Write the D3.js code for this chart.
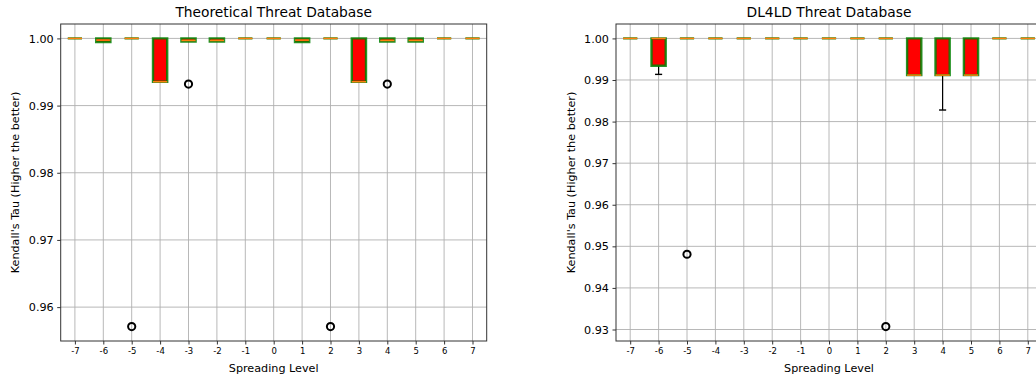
<!DOCTYPE html>
<html>
<head>
<meta charset="utf-8">
<script src="https://cdn.jsdelivr.net/npm/d3@7"></script>
<style>
  body { margin: 0; background: white; }
  svg { display: block; overflow: hidden; }
  text { font-family: "DejaVu Sans", sans-serif; fill: #000; }
</style>
</head>
<body>
<svg id="chart" width="1036" height="378"></svg>
<script>
// spreading levels on the x axis
var levels = [-7, -6, -5, -4, -3, -2, -1, 0, 1, 2, 3, 4, 5, 6, 7];

// Theoretical Threat Database
var theoQ1  = [1, 0.99945, 1, 0.99355, 0.99955, 0.99955, 1, 1, 0.99945, 1, 0.99355, 0.99955, 0.99955, 1, 1];
var theoMed = [1, 0.99975, 1, 0.99355, 0.99970, 0.99970, 1, 1, 0.99975, 1, 0.99355, 0.99970, 0.99970, 1, 1];
var theoQ3  = [1, 1, 1, 1, 1, 1, 1, 1, 1, 1, 1, 1, 1, 1, 1];
var theoLo  = [1, 0.99945, 1, 0.99355, 0.99955, 0.99955, 1, 1, 0.99945, 1, 0.99355, 0.99955, 0.99955, 1, 1];
var theoHi  = [1, 1, 1, 1, 1, 1, 1, 1, 1, 1, 1, 1, 1, 1, 1];
var theoOutLevel = [-5, -3, 2, 4];
var theoOutValue = [0.9571, 0.9932, 0.9571, 0.9932];
var theoTicks = [0.96, 0.97, 0.98, 0.99, 1.00];

// DL4LD Threat Database
var dlQ1  = [1, 0.99342, 1, 1, 1, 1, 1, 1, 1, 1, 0.99118, 0.99118, 0.99118, 1, 1];
var dlMed = [1, 1, 1, 1, 1, 1, 1, 1, 1, 1, 0.99118, 0.99118, 0.99118, 1, 1];
var dlQ3  = [1, 1, 1, 1, 1, 1, 1, 1, 1, 1, 1, 1, 1, 1, 1];
var dlLo  = [1, 0.99135, 1, 1, 1, 1, 1, 1, 1, 1, 0.99118, 0.98278, 0.99118, 1, 1];
var dlHi  = [1, 1, 1, 1, 1, 1, 1, 1, 1, 1, 1, 1, 1, 1, 1];
var dlOutLevel = [-5, 2];
var dlOutValue = [0.9481, 0.9307];
var dlTicks = [0.93, 0.94, 0.95, 0.96, 0.97, 0.98, 0.99, 1.00];

var svg = d3.select("#chart");
var pw = 426, ph = 317;

function drawPanel(left, title, q1, med, q3, lo, hi, outLevel, outValue, yTicks) {
	var g = svg.append("g").attr("transform", "translate(" + left + "," + 24 + ")");

	var x = d3.scaleLinear().domain([-7.5, 7.5]).range([0, pw]);
	var vmin = d3.min(lo.concat(outValue)), vmax = d3.max(hi);
	var pad = (vmax - vmin) * 0.05;
	var y = d3.scaleLinear().domain([vmin - pad, vmax + pad]).range([ph, 0]);

	// grid
	g.append("g").selectAll("line").data(levels).enter().append("line")
		.attr("x1", function(d) { return x(d); }).attr("x2", function(d) { return x(d); })
		.attr("y1", 0).attr("y2", ph)
		.attr("stroke", "#b0b0b0").attr("stroke-width", 0.9);
	g.append("g").selectAll("line").data(yTicks).enter().append("line")
		.attr("x1", 0).attr("x2", pw)
		.attr("y1", function(d) { return y(d); }).attr("y2", function(d) { return y(d); })
		.attr("stroke", "#b0b0b0").attr("stroke-width", 0.9);

	var bw = 0.5;
	var boxes = g.append("g").selectAll("g").data(levels).enter().append("g");

	// whiskers + caps
	boxes.filter(function(d, i) { return lo[i] < q1[i]; }).each(function(d) {
		var k = levels.indexOf(d);
		var s = d3.select(this);
		s.append("line")
			.attr("x1", x(d)).attr("x2", x(d))
			.attr("y1", y(q1[k])).attr("y2", y(lo[k]))
			.attr("stroke", "black").attr("stroke-width", 1.2);
		s.append("line")
			.attr("x1", x(d - bw / 4)).attr("x2", x(d + bw / 4))
			.attr("y1", y(lo[k])).attr("y2", y(lo[k]))
			.attr("stroke", "black").attr("stroke-width", 1.4);
	});

	// box as a closed path so zero-height boxes still show their edge
	boxes.append("path")
		.attr("d", function(d, i) {
			var x0 = x(d - bw / 2), x1 = x(d + bw / 2), y0 = y(q3[i]), y1 = y(q1[i]);
			return "M" + x0 + "," + y0 + "H" + x1 + "V" + y1 + "H" + x0 + "Z";
		})
		.attr("fill", "red")
		.attr("stroke", "green")
		.attr("stroke-opacity", 0.85)
		.attr("stroke-width", 2.4);

	boxes.append("line")
		.attr("x1", function(d) { return x(d - bw / 2); })
		.attr("x2", function(d) { return x(d + bw / 2); })
		.attr("y1", function(d, i) { return y(med[i]); })
		.attr("y2", function(d, i) { return y(med[i]); })
		.attr("stroke", "#ff7f0e")
		.attr("stroke-width", 1.5);

	// fliers
	g.append("g").selectAll("circle").data(outLevel).enter().append("circle")
		.attr("cx", function(d) { return x(d); })
		.attr("cy", function(d, i) { return y(outValue[i]); })
		.attr("r", 3.6)
		.attr("fill", "none")
		.attr("stroke", "black")
		.attr("stroke-width", 2);

	// frame
	g.append("rect").attr("width", pw).attr("height", ph)
		.attr("fill", "none").attr("stroke", "#333").attr("stroke-width", 1);

	var xAxis = g.append("g").attr("transform", "translate(0," + ph + ")")
		.call(d3.axisBottom(x).tickValues(levels).tickFormat(function(d) { return String(d); }).tickSize(3.5).tickPadding(3));
	xAxis.select(".domain").remove();
	xAxis.selectAll("text").style("font-size", "8.5px").style("font-family", "DejaVu Sans");
	xAxis.selectAll("line").attr("stroke", "#333");

	var yAxis = g.append("g")
		.call(d3.axisLeft(y).tickValues(yTicks).tickFormat(d3.format(".2f")).tickSize(3.5).tickPadding(3.5));
	yAxis.select(".domain").remove();
	yAxis.selectAll("text").style("font-size", "11.2px").style("font-family", "DejaVu Sans");
	yAxis.selectAll("line").attr("stroke", "#333");

	g.append("text")
		.attr("x", pw / 2).attr("y", -7)
		.attr("text-anchor", "middle")
		.style("font-size", "13.8px")
		.text(title);

	g.append("text")
		.attr("x", pw / 2).attr("y", ph + 31)
		.attr("text-anchor", "middle")
		.style("font-size", "11.2px")
		.text("Spreading Level");

	g.append("text")
		.attr("transform", "translate(" + (left < 100 ? -42 : -41) + "," + (ph / 2) + ") rotate(-90)")
		.attr("text-anchor", "middle")
		.style("font-size", "11.2px")
		.text("Kendall's Tau (Higher the better)");
}

drawPanel(60.7, "Theoretical Threat Database", theoQ1, theoMed, theoQ3, theoLo, theoHi, theoOutLevel, theoOutValue, theoTicks);
drawPanel(616, "DL4LD Threat Database", dlQ1, dlMed, dlQ3, dlLo, dlHi, dlOutLevel, dlOutValue, dlTicks);
</script>
</body>
</html>
